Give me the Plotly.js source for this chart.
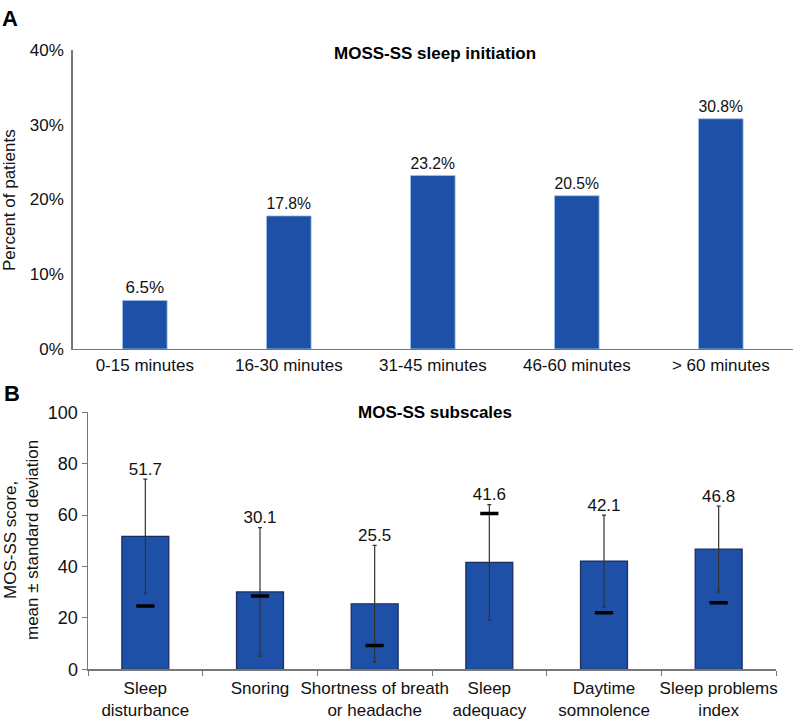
<!DOCTYPE html>
<html>
<head>
<meta charset="utf-8">
<script src="https://cdn.plot.ly/plotly-3.0.1.min.js"></script>
<style>
  body { margin: 0; padding: 0; background: #fff; }
  #chart { width: 800px; height: 720px; }
</style>
</head>
<body>
<div id="chart"></div>
<script>
// panel A - sleep initiation
var timeCats = ['0-15 minutes', '16-30 minutes', '31-45 minutes', '46-60 minutes', '> 60 minutes'];
var timePct = [6.5, 17.8, 23.2, 20.5, 30.8];

// panel B - subscales
var subscaleCats = ['Sleep<br>disturbance', 'Snoring', 'Shortness of breath<br>or headache',
  'Sleep<br>adequacy', 'Daytime<br>somnolence', 'Sleep problems<br>index'];
var subscaleMean = [51.7, 30.1, 25.5, 41.6, 42.1, 46.8];
var subscaleSD = [22.3, 25.0, 22.7, 22.5, 17.9, 16.7];
var subscaleMark = [24.6, 28.5, 9.3, 60.6, 22.0, 25.9];

var barBlue = '#1d50a6';
var fontFam = 'Liberation Sans, Arial, sans-serif';

var traceA = {
  x: timeCats,
  y: timePct,
  type: 'bar',
  width: 0.31,
  marker: {color: barBlue, line: {color: '#9fc3ea', width: 0.8}},
  text: timePct.map(function (v) { return v.toFixed(1) + '%'; }),
  textposition: 'outside',
  cliponaxis: false,
  textfont: {size: 17, color: '#111'},
  xaxis: 'x', yaxis: 'y'
};

var traceB = {
  x: subscaleCats,
  y: subscaleMean,
  type: 'bar',
  width: 0.41,
  marker: {color: barBlue, line: {color: '#1b2c5c', width: 1.2}},
  error_y: {type: 'data', array: subscaleSD, visible: true, color: '#333', thickness: 1.2, width: 2},
  xaxis: 'x2', yaxis: 'y2'
};

// black dash inside each subscale bar
var markB = {
  x: subscaleCats,
  y: subscaleMark,
  type: 'scatter',
  mode: 'markers',
  marker: {symbol: 'line-ew', size: 13, line: {color: '#000', width: 3.5}},
  xaxis: 'x2', yaxis: 'y2'
};

// value labels sit above the error bars
var labelB = {
  x: subscaleCats,
  y: subscaleMean.map(function (m, i) { return m + subscaleSD[i]; }),
  type: 'scatter',
  mode: 'text',
  text: subscaleMean.map(function (v) { return v.toFixed(1); }),
  textposition: 'top center',
  textfont: {size: 17, color: '#111'},
  cliponaxis: false,
  xaxis: 'x2', yaxis: 'y2'
};

function px(y) { return (720 - y) / 720; }

var layout = {
  width: 800,
  height: 720,
  margin: {l: 0, r: 0, t: 0, b: 0},
  paper_bgcolor: '#fff',
  plot_bgcolor: '#fff',
  showlegend: false,
  font: {family: fontFam, size: 17, color: '#111'},
  xaxis: {
    domain: [0.091, 0.991],
    anchor: 'y',
    type: 'category',
    showline: true, linecolor: '#777', linewidth: 1.5,
    ticks: '', showgrid: false, zeroline: false,
    tickangle: 0,
    tickfont: {size: 17}
  },
  yaxis: {
    domain: [0.5153, 0.9306],
    anchor: 'x',
    range: [0, 40],
    tickvals: [0, 10, 20, 30, 40],
    ticktext: ['0%', '10%', '20%', '30%', '40%'],
    showline: true, linecolor: '#777', linewidth: 1.5,
    ticks: '', showgrid: false, zeroline: false,
    ticklabelstandoff: 4,
    tickfont: {size: 17}
  },
  xaxis2: {
    domain: [0.11, 0.97],
    anchor: 'y2',
    type: 'category',
    showline: true, linecolor: '#777', linewidth: 1.5,
    ticks: 'outside', tickson: 'boundaries', ticklen: 5, tickcolor: '#777',
    showgrid: false, zeroline: false,
    tickangle: 0,
    ticklabelstandoff: 3,
    tickfont: {size: 17}
  },
  yaxis2: {
    domain: [0.0704, 0.4274],
    anchor: 'x2',
    range: [0, 100],
    tickvals: [0, 20, 40, 60, 80, 100],
    showline: true, linecolor: '#777', linewidth: 1.5,
    ticks: 'outside', ticklen: 5, tickcolor: '#777',
    showgrid: false, zeroline: false,
    tickfont: {size: 18}
  },
  annotations: [
    {text: '<b>A</b>', x: 0, y: px(18), xref: 'paper', yref: 'paper', showarrow: false,
      xanchor: 'left', yanchor: 'middle', font: {size: 22, color: '#000'}},
    {text: '<b>B</b>', x: 0.002, y: px(393), xref: 'paper', yref: 'paper', showarrow: false,
      xanchor: 'left', yanchor: 'middle', font: {size: 22, color: '#000'}},
    {text: '<b>MOSS-SS sleep initiation</b>', x: 435 / 800, y: px(54), xref: 'paper', yref: 'paper',
      showarrow: false, xanchor: 'center', yanchor: 'middle', font: {size: 17, color: '#000'}},
    {text: '<b>MOS-SS subscales</b>', x: 435 / 800, y: px(412), xref: 'paper', yref: 'paper',
      showarrow: false, xanchor: 'center', yanchor: 'middle', font: {size: 17, color: '#000'}},
    {text: 'Percent of patients', x: 9 / 800, y: px(200), xref: 'paper', yref: 'paper',
      showarrow: false, textangle: -90, xanchor: 'center', yanchor: 'middle', font: {size: 17}},
    {text: 'MOS-SS score,<br>mean ± standard deviation', x: 21 / 800, y: px(540), xref: 'paper', yref: 'paper',
      showarrow: false, textangle: -90, xanchor: 'center', yanchor: 'middle', font: {size: 17}}
  ]
};

Plotly.newPlot('chart', [traceA, traceB, markB, labelB], layout, {displayModeBar: false, staticPlot: true});
</script>
</body>
</html>
